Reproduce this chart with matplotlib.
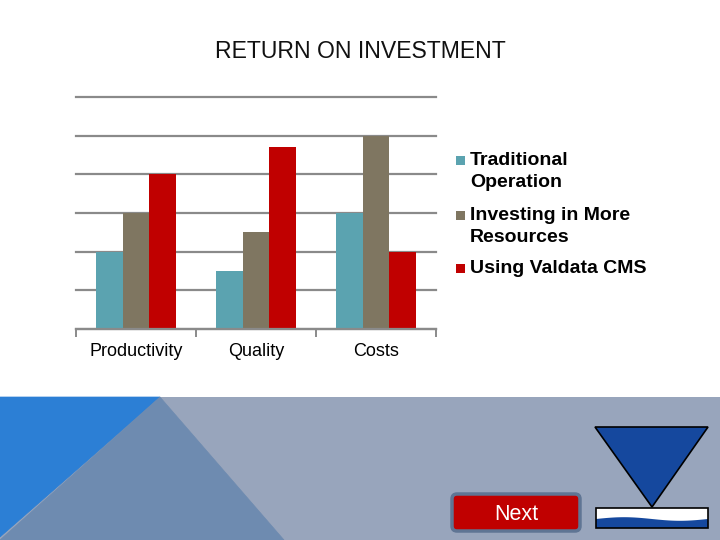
import numpy as np
import matplotlib
matplotlib.use("Agg")
import matplotlib.pyplot as plt
from matplotlib.patches import Polygon, Rectangle, FancyBboxPatch

categories = ["Productivity", "Quality", "Costs"]
series_names = ["Traditional\nOperation", "Investing in More\nResources", "Using Valdata CMS"]
traditional = [2, 1.5, 3]
investing = [3, 2.5, 5]
valdata = [4, 4.7, 2]
colors = ["#5BA3B0", "#7F7661", "#C00000"]

plt.rcParams['font.family'] = ['Liberation Sans', 'DejaVu Sans']

W, H = 720, 540
fig = plt.figure(figsize=(7.2, 5.4), dpi=100)
tr = fig.dpi_scale_trans


def px(x, y):
    # pixel position (from top-left) -> inches for dpi_scale_trans
    return (x / 100.0, (H - y) / 100.0)


# bottom band and decorations
fig.add_artist(Rectangle(px(0, 540), 7.2, (540 - 397) / 100.0, transform=tr,
                         facecolor="#98A5BC", edgecolor="none", zorder=0))
fig.add_artist(Polygon([px(0, 397), px(160, 397), px(0, 537)], closed=True,
                       transform=tr, facecolor="#2C7FD5", edgecolor="#2C7FD5",
                       linewidth=0.5, zorder=1))
fig.add_artist(Polygon([px(160, 397), px(0, 540), px(284, 540)], closed=True,
                       transform=tr, facecolor="#6E8BB0", edgecolor="#6E8BB0",
                       linewidth=0.5, zorder=1))

# Next button
fig.add_artist(FancyBboxPatch(px(452, 531), 1.28, 0.37, transform=tr,
                              boxstyle="round,pad=0,rounding_size=0.05",
                              facecolor="#C00000", edgecolor="#5F7594", linewidth=2.5, zorder=2))
fig.text(516 / 720, 1 - 515 / 540, "Next", color="white", fontsize=15.5,
         ha="center", va="center", zorder=3)

# logo
fig.add_artist(Polygon([px(595, 427), px(708, 427), px(652, 507)], closed=True,
                       transform=tr, facecolor="#15489E", edgecolor="black", linewidth=1.2, zorder=2))
fig.add_artist(Rectangle(px(596, 528), 1.12, 0.20, transform=tr,
                         facecolor="white", edgecolor="none", zorder=2))
wx = np.linspace(596, 708, 60)
wy = 519 - 1.8 * np.sin((wx - 596) / 112 * 2 * np.pi)
wave = [px(x, y) for x, y in zip(wx, wy)] + [px(708, 528), px(596, 528)]
fig.add_artist(Polygon(wave, closed=True, transform=tr, facecolor="#15489E",
                       edgecolor="none", zorder=3))
fig.add_artist(Rectangle(px(596, 528), 1.12, 0.20, transform=tr,
                         facecolor="none", edgecolor="black", linewidth=1.2, zorder=4))

# title
fig.text(0.5, 1 - 51 / 540, "RETURN ON INVESTMENT", fontsize=16.6,
         ha="center", va="center", color="#111111")

# chart
ax = fig.add_axes([76 / W, 1 - 329 / H, 360 / W, 232 / H])
ax.set_facecolor("none")
x = np.arange(len(categories))
w = 0.22
for i, (vals, c) in enumerate(zip([traditional, investing, valdata], colors)):
    ax.bar(x + (i - 1) * w, vals, width=w, color=c, edgecolor="none", zorder=3)

ax.set_xlim(-0.5, 2.5)
ax.set_ylim(0, 6)
ax.set_yticks(range(0, 7))
ax.set_yticklabels([])
ax.tick_params(axis="y", length=0)
ax.yaxis.grid(True, color="#8A8A8A", linewidth=1.6, zorder=1)
for gl in ax.get_ygridlines():
    gl.set_clip_on(False)
ax.set_xticks(x)
ax.set_xticklabels(categories, fontsize=13)
ax.tick_params(axis="x", which="major", length=0, pad=10)
ax.set_xticks([-0.5, 0.5, 1.5, 2.5], minor=True)
ax.tick_params(axis="x", which="minor", length=6, width=1.4, color="#8A8A8A")
for s in ["top", "right", "left"]:
    ax.spines[s].set_visible(False)
ax.spines["bottom"].set_color("#8A8A8A")
ax.spines["bottom"].set_linewidth(1.6)
ax.spines["bottom"].set_zorder(4)

# legend
entry_y = [161, 216, 269]
for name, c, y in zip(series_names, colors, entry_y):
    fig.add_artist(Rectangle(px(456, y + 4), 0.09, 0.09, transform=tr,
                             facecolor=c, edgecolor="none"))
    fig.text(470 / W, 1 - (y - 9) / H, name, fontsize=14, fontweight="bold",
             ha="left", va="top", linespacing=1.4, color="black")

fig.savefig("out.png", dpi=100)
